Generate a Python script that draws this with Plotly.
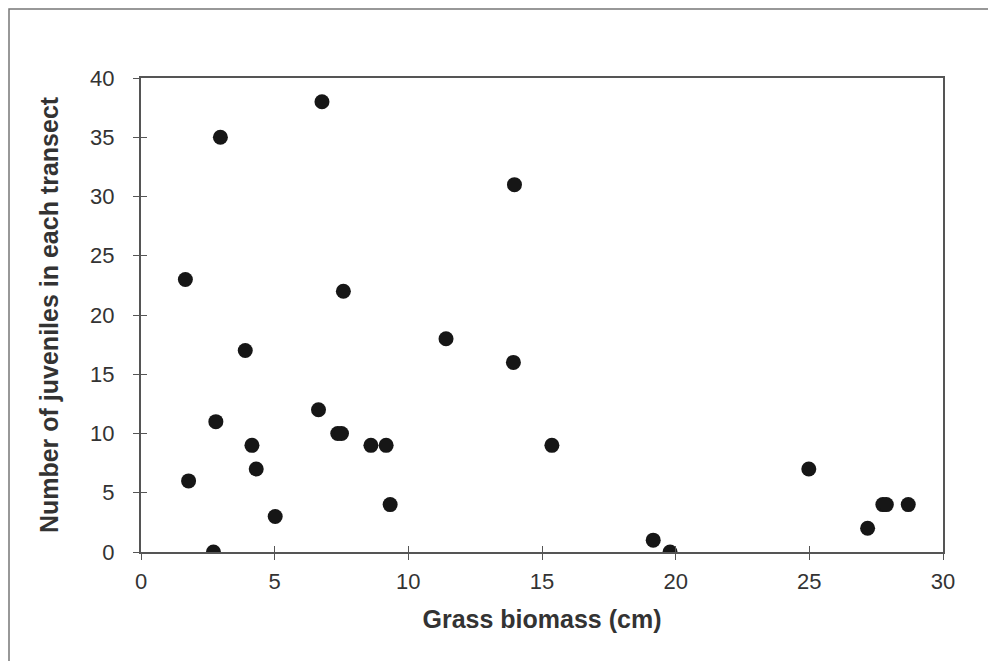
import plotly.graph_objects as go

grass_biomass = [1.66, 1.78, 2.71, 2.80, 2.97, 3.90, 4.15, 4.31, 5.02, 6.64, 6.77,
                 7.36, 7.50, 7.57, 8.60, 9.17, 9.32, 11.41, 13.97, 13.93, 15.37,
                 19.16, 19.79, 24.98, 27.18, 27.75, 27.88, 28.70]
juveniles = [23, 6, 0, 11, 35, 17, 9, 7, 3, 12, 38,
             10, 10, 22, 9, 9, 4, 18, 31, 16, 9,
             1, 0, 7, 2, 4, 4, 4]

x_ticks = [0, 5, 10, 15, 20, 25, 30]
y_ticks = [0, 5, 10, 15, 20, 25, 30, 35, 40]

fig = go.Figure()
fig.add_trace(go.Scatter(
    x=grass_biomass, y=juveniles, mode="markers",
    marker=dict(size=15, color="#161616", line=dict(width=0)),
    showlegend=False,
))
# invisible trace to activate the secondary axes (inside half of crossing ticks)
fig.add_trace(go.Scatter(x=[None], y=[None], xaxis="x2", yaxis="y2",
                         showlegend=False, hoverinfo="skip"))

axis_font = dict(family="Liberation Sans, Arial", size=22, color="#333333")
title_font = dict(family="Liberation Sans, Arial", size=25, color="#333333")

L, R, T, B = 133, 53, 70, 109
W, H = 988, 653
PW, PH = W - L - R, H - T - B

fig.update_layout(
    width=W, height=H,
    margin=dict(l=L, r=R, t=T, b=B),
    paper_bgcolor="white", plot_bgcolor="white",
    xaxis=dict(range=[0, 30], tickvals=x_ticks, showgrid=False, zeroline=False,
               showline=True, linecolor="#555555", linewidth=2, mirror=True,
               ticks="outside", ticklen=6, tickcolor="#555555", tickwidth=1,
               tickfont=axis_font, ticklabelstandoff=3,
               title=dict(text="<b>Grass biomass (cm)</b>", font=title_font, standoff=17)),
    yaxis=dict(range=[0, 40], tickvals=y_ticks, showgrid=False, zeroline=False,
               showline=True, linecolor="#555555", linewidth=2, mirror=True,
               ticks="outside", ticklen=6, tickcolor="#555555", tickwidth=1,
               tickfont=axis_font, ticklabelstandoff=14,
               title=dict(text="<b>Number of juveniles in each transect</b>", font=title_font, standoff=24)),
    xaxis2=dict(range=[0, 30], tickvals=x_ticks, overlaying="x", anchor="y",
                side="bottom", showgrid=False, zeroline=False, showticklabels=False,
                ticks="inside", ticklen=6, tickcolor="#555555", tickwidth=1),
    yaxis2=dict(range=[0, 40], tickvals=y_ticks, overlaying="y", anchor="x",
                side="left", showgrid=False, zeroline=False, showticklabels=False,
                ticks="inside", ticklen=6, tickcolor="#555555", tickwidth=1),
    shapes=[dict(type="rect", xref="paper", yref="paper",
                 x0=(1 - L) / PW, x1=1 + (R + 20) / PW,
                 y0=-(B + 20) / PH, y1=1 + (T - 1) / PH,
                 line=dict(color="#777777", width=1.5), fillcolor="rgba(0,0,0,0)")],
)

fig.write_html("out.html")
